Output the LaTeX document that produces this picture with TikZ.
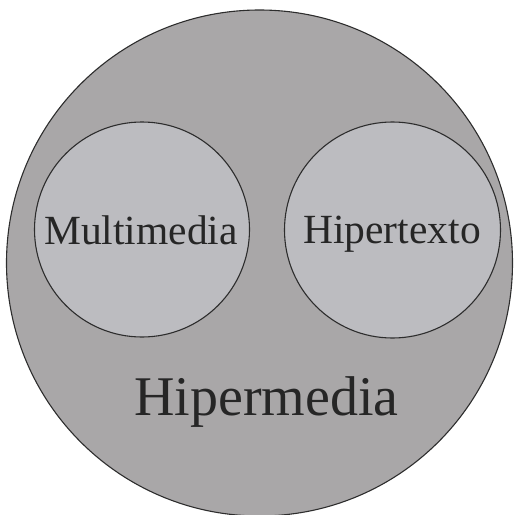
\documentclass[tikz,border=0pt]{standalone}
\usepackage{fontspec}
\setmainfont{Liberation Serif}
\definecolor{outerfill}{RGB}{169,167,168}
\definecolor{innerfill}{RGB}{188,188,192}
\definecolor{edge}{RGB}{45,45,45}
\begin{document}
\begin{tikzpicture}[x=1pt,y=-1pt,
  ring/.style={circle,draw=edge,line width=1.1pt,inner sep=0pt},
  lab/.style={anchor=base,inner sep=0pt,text=black!85}]
\useasboundingbox (0,0) rectangle (514,515);
\clip (0,0) rectangle (514,515);
\node[ring,fill=outerfill,minimum size=506pt] (hm) at (259.5,263) {};
\node[ring,fill=innerfill,minimum size=215pt] (mm) at (142,229.5) {};
\node[ring,fill=innerfill,minimum size=216pt] (ht) at (392.5,230) {};
\node[lab,font=\fontsize{41.5}{45}\selectfont] (tmm) at (141,244) {Multimedia};
\node[lab,font=\fontsize{41.5}{45}\selectfont] (tht) at (392,243.5) {Hipertexto};
\node[lab,font=\fontsize{56}{60}\selectfont] (thm) at (266.5,415) {Hipermedia};
\end{tikzpicture}
\end{document}
